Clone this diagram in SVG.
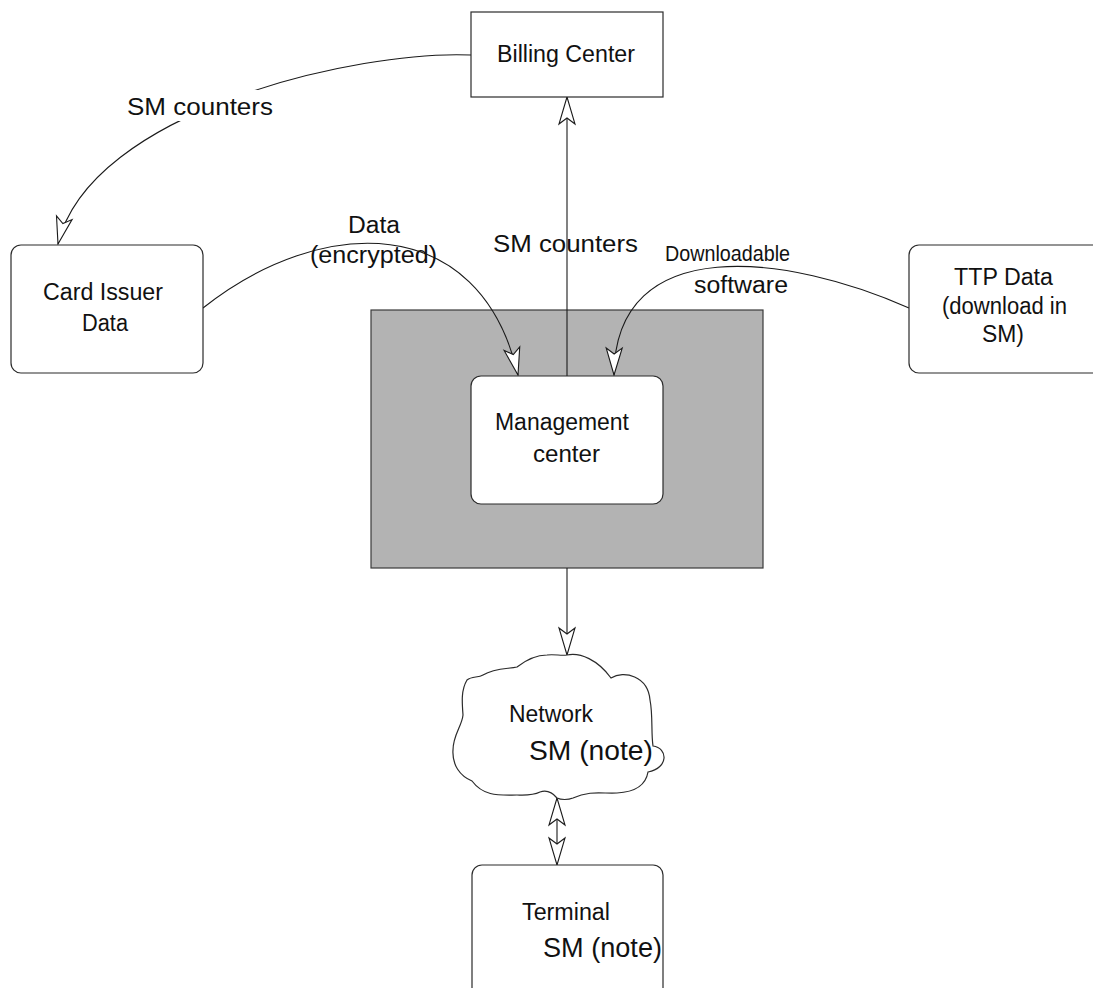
<svg xmlns="http://www.w3.org/2000/svg" width="1093" height="988" viewBox="0 0 1093 988">
  <style>
    .box { fill: #ffffff; stroke: #2b2b2b; stroke-width: 1.2; }
    .shade { fill: #b3b3b3; stroke: #3a3a3a; stroke-width: 1.2; }
    .wire { fill: none; stroke: #1a1a1a; stroke-width: 1.1; }
    .lbl { font-family: "Liberation Sans", Arial, sans-serif; font-size: 23px; fill: #111111; }
    .big { font-size: 24px; }
    .mid { font-size: 22px; }
    .note { font-size: 27px; }
  </style>
  <defs>
    <!-- open barbed arrowhead, tip on the path end -->
    <marker id="head" markerUnits="userSpaceOnUse" markerWidth="34" markerHeight="24" refX="0" refY="0" orient="auto" overflow="visible">
      <path d="M0,0 L-27,-8 L-21,0 L-27,8 Z" fill="#ffffff" stroke="#1a1a1a" stroke-width="1.1" stroke-linejoin="miter"/>
    </marker>
    <marker id="headStart" markerUnits="userSpaceOnUse" markerWidth="34" markerHeight="24" refX="0" refY="0" orient="auto" overflow="visible">
      <path d="M0,0 L27,-8 L21,0 L27,8 Z" fill="#ffffff" stroke="#1a1a1a" stroke-width="1.1" stroke-linejoin="miter"/>
    </marker>
  </defs>

  <rect width="1093" height="988" fill="#ffffff"/>

  <!-- management enclosure (shaded) -->
  <g id="mgmt-zone">
    <rect class="shade" x="371" y="310" width="392" height="258"/>
  </g>

  <!-- connectors -->
  <g id="connectors">
    <path class="wire" d="M471,55 C360,50 90,110 58,244" marker-end="url(#head)"/>
    <path class="wire" d="M203,308 C320,215 480,210 518,375" marker-end="url(#head)"/>
    <path class="wire" d="M909,308 C790,255 615,230 614,375" marker-end="url(#head)"/>
    <path class="wire" d="M567,376 L567,97" marker-end="url(#head)"/>
    <path class="wire" d="M567,568 L567,655" marker-end="url(#head)"/>
    <path class="wire" d="M557,798 L557,865" marker-start="url(#headStart)" marker-end="url(#head)"/>
  </g>

  <!-- connector labels -->
  <g id="labels">
    <rect x="125" y="90" width="150" height="31" fill="#ffffff"/>
    <text class="lbl big" x="127" y="115" textLength="146" lengthAdjust="spacingAndGlyphs">SM counters</text>
    <text class="lbl" x="348" y="233" textLength="52" lengthAdjust="spacingAndGlyphs">Data</text>
    <text class="lbl" x="310" y="263" textLength="127" lengthAdjust="spacingAndGlyphs">(encrypted)</text>
    <text class="lbl big" x="493" y="252" textLength="145" lengthAdjust="spacingAndGlyphs">SM counters</text>
    <text class="lbl mid" x="665" y="261" textLength="125" lengthAdjust="spacingAndGlyphs">Downloadable</text>
    <text class="lbl" x="694" y="293" textLength="94" lengthAdjust="spacingAndGlyphs">software</text>
  </g>

  <g id="billing-center">
    <rect class="box" x="471" y="12" width="192" height="85"/>
    <text class="lbl" x="497" y="62" textLength="138" lengthAdjust="spacingAndGlyphs">Billing Center</text>
  </g>

  <g id="card-issuer">
    <rect class="box" x="11" y="245" width="192" height="128" rx="10" ry="10"/>
    <text class="lbl" x="43" y="300" textLength="120" lengthAdjust="spacingAndGlyphs">Card Issuer</text>
    <text class="lbl" x="82" y="331" textLength="46" lengthAdjust="spacingAndGlyphs">Data</text>
  </g>

  <g id="ttp-data">
    <rect class="box" x="909" y="245" width="200" height="128" rx="10" ry="10"/>
    <text class="lbl" x="954" y="285" textLength="99" lengthAdjust="spacingAndGlyphs">TTP Data</text>
    <text class="lbl" x="942" y="314" textLength="125" lengthAdjust="spacingAndGlyphs">(download in</text>
    <text class="lbl" x="982" y="342" textLength="42" lengthAdjust="spacingAndGlyphs">SM)</text>
  </g>

  <g id="management-center">
    <rect class="box" x="471" y="376" width="192" height="128" rx="10" ry="10"/>
    <text class="lbl" x="495" y="430" textLength="134" lengthAdjust="spacingAndGlyphs">Management</text>
    <text class="lbl" x="533" y="462" textLength="67" lengthAdjust="spacingAndGlyphs">center</text>
  </g>

  <g id="network">
    <path class="box" d="M567,655
      C580,652 598,660 611,678
      C624,670 648,676 650,700
      C653,715 651,733 653,746
      C668,748 669,768 648,772
      C646,784 636,792 617,793
      C604,794 590,790 573,798
      C568,800 561,800 557,798
      C552,792 546,790 540,792
      C532,796 522,795 517,795
      C500,795 484,797 472,781
      C460,776 452,765 453,750
      C453,735 462,726 463,715
      C462,702 461,690 467,680
      C472,676 478,678 483,675
      C495,668 508,669 517,667
      C526,660 537,655 547,655
      C555,654 561,656 567,655 Z"/>
    <text class="lbl" x="509" y="722" textLength="84" lengthAdjust="spacingAndGlyphs">Network</text>
    <text class="lbl note" x="529" y="760" textLength="124" lengthAdjust="spacingAndGlyphs">SM (note)</text>
  </g>

  <g id="terminal">
    <rect class="box" x="472" y="865" width="191" height="140" rx="10" ry="10"/>
    <text class="lbl" x="522" y="920" textLength="88" lengthAdjust="spacingAndGlyphs">Terminal</text>
    <text class="lbl note" x="543" y="957" textLength="119" lengthAdjust="spacingAndGlyphs">SM (note)</text>
  </g>
</svg>
